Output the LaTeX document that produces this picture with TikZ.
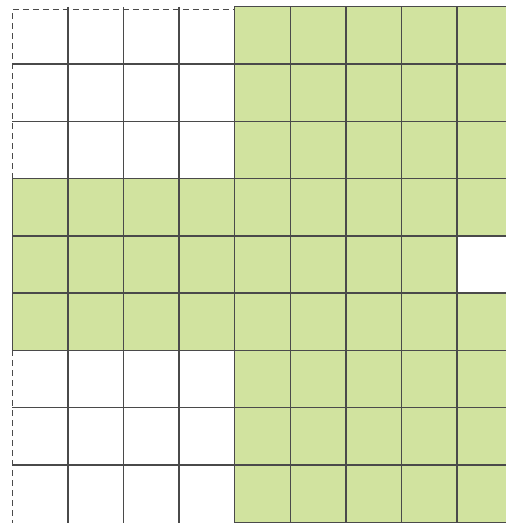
\documentclass[tikz,border=0pt]{standalone}
\usepackage{xcolor}
\definecolor{leaf}{HTML}{D1E39F}
\definecolor{ink}{HTML}{4A4A4A}
\tikzset{
  gridline/.style={draw=ink,line width=1.4pt},
  greencell/.style={gridline,fill=leaf},
  holecell/.style={gridline,fill=white,line width=1.8pt},
  openedge/.style={draw=ink,line width=1.3pt,dash pattern=on 6pt off 4pt},
}

\begin{document}
\begin{tikzpicture}[x=55.6pt,y=-57.28pt]
\clip (-0.2212,-0.1187) rectangle (8.8795,9.012);

% left block, white rows: inner lines only
\foreach \c in {1,2,3} {\draw[gridline] (\c,0) -- (\c,3); \draw[gridline] (\c,6) -- (\c,9.2);}
\foreach \r in {1,2,7,8} {\draw[gridline] (0,\r) -- (4,\r);}

% left block, green band
\foreach \r in {3,4,5} \foreach \c in {0,...,3} {\draw[greencell] (\c,\r) rectangle ++(1,1);}

% right block, all green
\foreach \r in {0,...,8} \foreach \c in {4,...,8} {\draw[greencell] (\c,\r) rectangle ++(1,1);}

% the one empty cell
\draw[holecell] (8,4) rectangle ++(1,1);

% open outer edge of the white part
\draw[openedge] (0,3) -- (0,0.044) -- (4,0.044);
\draw[openedge] (0,6) -- (0,9.2);
\end{tikzpicture}
\end{document}
